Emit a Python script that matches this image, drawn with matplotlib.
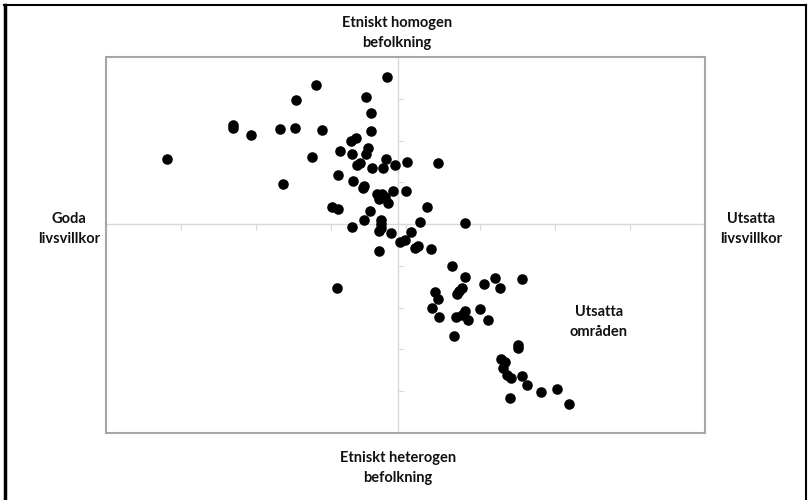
import matplotlib
matplotlib.use('Agg')
import matplotlib.pyplot as plt
from matplotlib.lines import Line2D
from matplotlib.patches import Rectangle

# Scatter values (axis cross at 0,0)
xVals = [-3.09, -2.21, -2.20, -1.97, -1.58, -1.38, -1.36, -1.10, -1.01, -1.15,
         -1.53, -0.15, -0.43, -0.36, -0.36, -0.63, -0.56, -0.77, -0.61, -0.40,
         -0.43, -0.16, -0.55, -0.51, -0.35, -0.20, -0.04, 0.12, 0.53, -0.80,
         -0.60, -0.47, -0.45, -0.28, -0.22, -0.25, -0.17, -0.13, -0.07, 0.11,
         0.39, -0.88, -0.80, -0.38, -0.45, -0.23, -0.23, -0.61, -0.26, -0.23,
         -0.10, 0.30, 0.90, 0.18, 0.03, 0.09, 0.23, 0.27, 0.44, -0.26,
         -0.82, 0.72, 0.89, 1.30, 1.65, 1.15, 1.36, 0.85, 0.82, 0.79,
         0.49, 0.53, 0.46, 0.55, 0.90, 0.86, 0.78, 0.93, 1.09, 1.20,
         0.75, 1.60, 1.60, 1.37, 1.43, 1.40, 1.45, 1.51, 1.66, 1.72,
         1.91, 2.12, 1.50, 2.29]
yVals = [1.57, 2.37, 2.31, 2.13, 2.27, 2.30, 2.96, 3.34, 2.26, 1.60,
         0.96, 3.51, 3.05, 2.66, 2.22, 1.99, 2.07, 1.75, 1.67, 1.83,
         1.67, 1.57, 1.42, 1.46, 1.35, 1.35, 1.41, 1.49, 1.46, 1.18,
         1.04, 0.86, 0.91, 0.73, 0.72, 0.61, 0.66, 0.51, 0.80, 0.80,
         0.42, 0.41, 0.35, 0.31, 0.10, 0.10, 0.00, -0.06, -0.16, -0.10,
         -0.22, 0.05, 0.02, -0.18, -0.43, -0.39, -0.56, -0.53, -0.60, -0.65,
         -1.52, -1.00, -1.26, -1.29, -1.32, -1.44, -1.54, -1.52, -1.61, -1.68,
         -1.62, -1.80, -2.00, -2.22, -2.07, -2.18, -2.22, -2.30, -2.02, -2.30,
         -2.67, -2.89, -2.97, -3.24, -3.29, -3.45, -3.61, -3.69, -3.64, -3.85,
         -4.02, -3.95, -4.16, -4.30]

xTicks = [-2.9, -1.9, -0.9, 0.1, 1.1, 2.1, 3.1]
yTicks = [-5, -4, -3, -2, -1, 1, 2, 3, 4]

topLabel = 'Etniskt homogen\nbefolkning'
bottomLabel = 'Etniskt heterogen\nbefolkning'
leftLabel = 'Goda\nlivsvillkor'
rightLabel = 'Utsatta\nlivsvillkor'
areaLabel = 'Utsatta\nområden'

W, H = 808, 500
fig = plt.figure(figsize=(W / 100, H / 100), dpi=100)
ax = fig.add_axes([106 / W, 1 - 433 / H, 599 / W, 376 / H])

ax.set_xlim(-3.9, 4.1)
ax.set_ylim(-5, 4)

# crossing axes with small ticks
for s in ['top', 'right']:
    ax.spines[s].set_visible(False)
ax.spines['left'].set_position(('data', 0))
ax.spines['bottom'].set_position(('data', 0))
for s in ['left', 'bottom']:
    ax.spines[s].set_color('#d9d9d9')
    ax.spines[s].set_linewidth(1.0)
    ax.spines[s].set_zorder(1)
ax.set_xticks(xTicks)
ax.set_yticks(yTicks)
ax.tick_params(axis='x', direction='out', length=4, color='#d9d9d9', labelbottom=False)
ax.tick_params(axis='y', direction='in', length=4, color='#d9d9d9', labelleft=False)

# plot area border
ax.add_patch(Rectangle((0, 0), 1, 1, transform=ax.transAxes, fill=False,
                       edgecolor='#a6a6a6', linewidth=1.5, clip_on=False, zorder=3))

ax.plot(xVals, yVals, 'o', color='black', markersize=7.6, markeredgewidth=0, zorder=4)

font = dict(family=['Lato', 'DejaVu Sans'], fontweight='bold', fontsize=10.5,
            color='#111111', ha='center', va='center', linespacing=1.55)
fig.text(397 / W, 1 - 33 / H, topLabel, **font)
fig.text(398 / W, 1 - 468 / H, bottomLabel, **font)
fig.text(69 / W, 1 - 229 / H, leftLabel, **font)
fig.text(751 / W, 1 - 229 / H, rightLabel, **font)
fig.text(599 / W, 1 - 322 / H, areaLabel, **font)

# outer frame of the picture
fig.add_artist(Line2D([5 / W, 5 / W], [0, 1 - 5 / H], color='black', linewidth=2.5))
fig.add_artist(Line2D([4 / W, 806 / W], [1 - 5 / H, 1 - 5 / H], color='black', linewidth=1.5))
fig.add_artist(Line2D([806 / W, 806 / W], [0, 1 - 5 / H], color='black', linewidth=1.5))

fig.savefig('out.png', dpi=100)
